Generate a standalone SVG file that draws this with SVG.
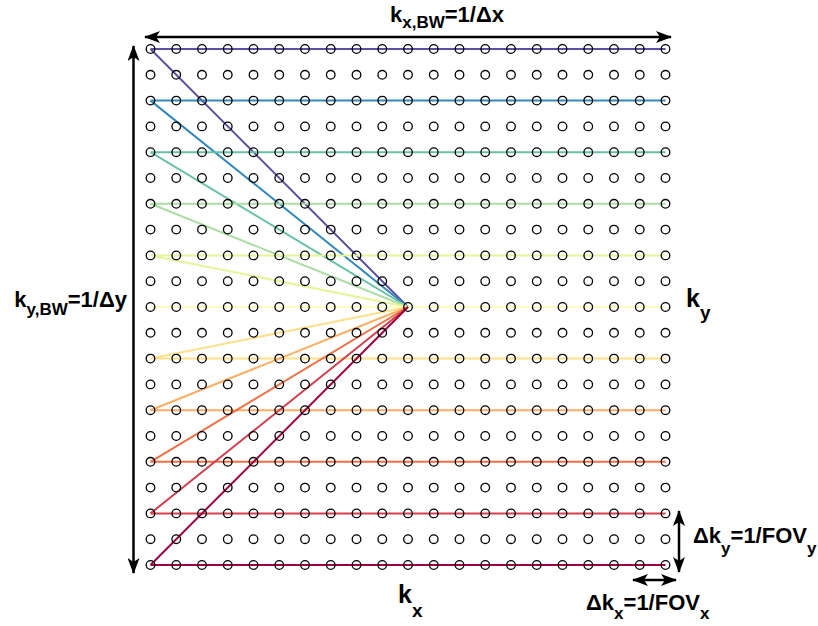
<svg xmlns="http://www.w3.org/2000/svg" width="818" height="626" viewBox="0 0 818 626">
<style>
.t{font-family:"Liberation Sans",Arial,sans-serif;font-weight:bold;fill:#000}
.m{font-size:22px}
.s{font-size:17px}
.b{font-size:25px}
.bs{font-size:19px}
.ln{stroke-width:2;fill:none}
.ar{stroke:#000;stroke-width:2.5;fill:none}
.c{fill:none;stroke:#000;stroke-width:1.3}
</style>
<defs>
<marker id="ah" viewBox="0 0 16 12" refX="15" refY="6" markerWidth="16" markerHeight="12" markerUnits="userSpaceOnUse" orient="auto-start-reverse">
<path d="M0,0 L16,6 L0,12 L4,6 Z" fill="#000"/>
</marker>
<g id="row">
<circle class="c" cx="150.5" cy="0" r="4.3"/><circle class="c" cx="176.25" cy="0" r="4.3"/><circle class="c" cx="202" cy="0" r="4.3"/><circle class="c" cx="227.75" cy="0" r="4.3"/><circle class="c" cx="253.5" cy="0" r="4.3"/><circle class="c" cx="279.25" cy="0" r="4.3"/><circle class="c" cx="305" cy="0" r="4.3"/><circle class="c" cx="330.75" cy="0" r="4.3"/><circle class="c" cx="356.5" cy="0" r="4.3"/><circle class="c" cx="382.25" cy="0" r="4.3"/><circle class="c" cx="408" cy="0" r="4.3"/><circle class="c" cx="433.75" cy="0" r="4.3"/><circle class="c" cx="459.5" cy="0" r="4.3"/><circle class="c" cx="485.25" cy="0" r="4.3"/><circle class="c" cx="511" cy="0" r="4.3"/><circle class="c" cx="536.75" cy="0" r="4.3"/><circle class="c" cx="562.5" cy="0" r="4.3"/><circle class="c" cx="588.25" cy="0" r="4.3"/><circle class="c" cx="614" cy="0" r="4.3"/><circle class="c" cx="639.75" cy="0" r="4.3"/><circle class="c" cx="665.5" cy="0" r="4.3"/>
</g>
</defs>
<g id="connectors">
<g id="rows" class="ln">
<path d="M150.5,49H665.5M150.5,49L408,307" stroke="#5e4fa2"/>
<path d="M150.5,100.6H665.5M150.5,100.6L408,307" stroke="#3288bd"/>
<path d="M150.5,152.2H665.5M150.5,152.2L408,307" stroke="#66c2a5"/>
<path d="M150.5,203.8H665.5M150.5,203.8L408,307" stroke="#abdda4"/>
<path d="M150.5,255.4H665.5M150.5,255.4L408,307" stroke="#e6f598"/>
<path d="M150.5,307H665.5" stroke="#ffffbf"/>
<path d="M150.5,358.6H665.5M150.5,358.6L408,307" stroke="#fee08b"/>
<path d="M150.5,410.2H665.5M150.5,410.2L408,307" stroke="#fdae61"/>
<path d="M150.5,461.8H665.5M150.5,461.8L408,307" stroke="#f46d43"/>
<path d="M150.5,513.4H665.5M150.5,513.4L408,307" stroke="#d53e4f"/>
<path d="M150.5,565H665.5M150.5,565L408,307" stroke="#9e0142"/>
</g>
<g id="arrows">
<line class="ar" x1="145" y1="37" x2="671" y2="37" marker-start="url(#ah)" marker-end="url(#ah)"/>
<line class="ar" x1="133.5" y1="46" x2="133.5" y2="573" marker-start="url(#ah)" marker-end="url(#ah)"/>
<line class="ar" x1="679" y1="511" x2="679" y2="572" marker-start="url(#ah)" marker-end="url(#ah)"/>
<line class="ar" x1="633" y1="580" x2="676" y2="580" marker-start="url(#ah)" marker-end="url(#ah)"/>
</g>
</g>
<g id="grid">
<use href="#row" y="49"/><use href="#row" y="74.8"/><use href="#row" y="100.6"/><use href="#row" y="126.4"/><use href="#row" y="152.2"/><use href="#row" y="178"/><use href="#row" y="203.8"/><use href="#row" y="229.6"/><use href="#row" y="255.4"/><use href="#row" y="281.2"/><use href="#row" y="307"/><use href="#row" y="332.8"/><use href="#row" y="358.6"/><use href="#row" y="384.4"/><use href="#row" y="410.2"/><use href="#row" y="436"/><use href="#row" y="461.8"/><use href="#row" y="487.6"/><use href="#row" y="513.4"/><use href="#row" y="539.2"/><use href="#row" y="565"/>
</g>
<g id="labels">
<text class="t m" x="447" y="22" text-anchor="middle">k<tspan class="s" dy="6">x,BW</tspan><tspan dy="-6">=1/Δx</tspan></text>
<text class="t m" x="127" y="307" text-anchor="end">k<tspan class="s" dy="8">y,BW</tspan><tspan dy="-8">=1/Δy</tspan></text>
<text class="t b" x="686" y="307">k<tspan class="bs" dy="12">y</tspan></text>
<text class="t b" x="398" y="603">k<tspan class="bs" dy="14">x</tspan></text>
<text class="t m" x="693" y="543">Δk<tspan class="s" dy="11">y</tspan><tspan dy="-11">=1/FOV</tspan><tspan class="s" dy="11">y</tspan></text>
<text class="t m" x="586" y="610">Δk<tspan class="s" dy="9">x</tspan><tspan dy="-9">=1/FOV</tspan><tspan class="s" dy="9">x</tspan></text>
</g>
</svg>
